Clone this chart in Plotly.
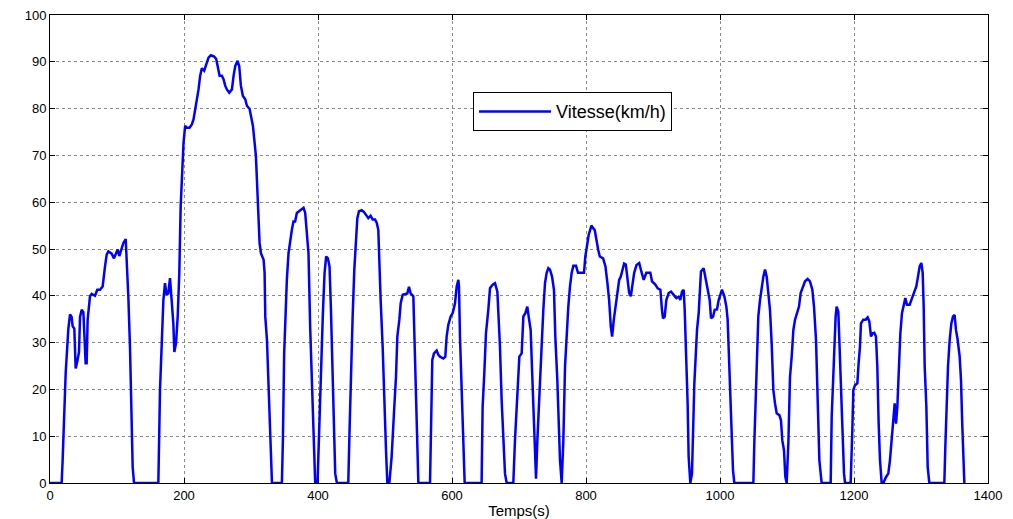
import plotly.graph_objects as go

# Temps (s) et vitesse (km/h)
temps_s = [
    0, 17.4, 18.9, 20.9, 23.4, 27.4, 29.9, 32.3, 33.8, 36.3, 38.3, 40.8, 43.3, 44.8, 47.3, 49.8,
    51.2, 53.2, 54.7, 56.2, 59.7, 62.2, 67.2, 70.6, 74.6, 78.6, 82.1, 84.6, 87.1, 92, 95.5, 98.5,
    101, 103.5, 106, 109.5, 113, 115.4, 116.9, 119.4, 121.9, 123.4, 125.4, 161.7,
    164.2, 166.7, 169.2, 171.6, 174.1, 176.6, 179.1, 181.6, 184.1, 185.6, 188.1, 190.6, 193, 195,
    197, 199.3, 201.7, 204.2, 208.2, 211.7, 214.2, 216.7, 219.2, 221.7, 224.1, 226.6, 230.1, 233.1,
    236.6, 240.1, 245.1, 248.1, 250.6, 253.1, 256.5, 259, 261.5, 264, 267.5, 271.5, 274, 276.5,
    279.9, 282.4, 284.9, 287.9, 291.4, 293.9, 297.9, 300.4, 302.9, 305.4, 307.3, 308.8, 310.8,
    312.8, 314.8, 318.8, 320.3, 321.3, 323.8, 326.3, 328.8, 331.3, 346.1,
    347.6, 349.5, 351.5, 353.5, 356, 358.5, 361, 363.4, 365.9, 368.4, 372.4, 375.9, 378.4, 380.9,
    383.3, 385.8, 388.3, 390.8, 393.3, 395.8, 399.3, 401.8, 404.3, 407.3, 409.8, 412.2, 414.7,
    417.2, 419.2, 421.2, 423.2, 425.7, 428.2, 445.2,
    446.7, 448.7, 451.7, 454.2, 456.7, 458.7, 461.2, 465.2, 468.7, 471.6, 475.1, 478.6, 481.6,
    485.1, 487.6, 490, 491.5, 493.5, 496.5, 499, 501.5, 503.5, 506.5, 509.9, 512.4, 513.9, 516.4,
    518.4, 521.4, 523.4, 526.4, 529.9, 533.3, 535.8, 538.3, 542.3, 543.8, 545.3, 547.3, 549.8, 567.2,
    568.7, 570.6, 573.1, 577.1, 579.6, 582.1, 587.1, 590, 592, 594.5, 598, 601, 604.5, 607, 609.5,
    610.4, 611.9, 614.4, 616.9, 618.9, 644.2,
    645.7, 648.2, 650.7, 654.2, 656.7, 660.7, 664.2, 667.7, 669.7, 671.6, 674.1, 676.6, 679.1,
    681.6, 691.5, 694, 697.5, 700.5, 704, 706.5, 709.5, 712.4, 714.4, 717.4, 720.4, 722.9, 725.4,
    727.4, 730.3, 733.3, 736.3, 738.8, 741.3, 743.8, 746.3, 749.3, 752.2, 754.2, 757.2, 759.2,
    761.2, 763.7, 766.2, 768.7, 771.1, 773.6, 776.1, 778.6, 781.1, 785.1, 788.1, 793.5, 797, 799,
    801, 804, 808, 813.1, 818.1, 820.6, 825.5, 829, 832, 834.5, 837, 839, 841.5, 844.5, 847, 849.5,
    851.9, 854.4, 856.9, 859.4, 861.9, 864.4, 866.9, 869.4, 871.9, 875.4, 879.4, 882.6, 886.1, 890,
    896, 898.5, 903.5, 907, 911, 913.4, 914.9, 917.4, 919.9, 923.4, 926.9, 930.8, 934.8, 938.3,
    940.8, 943.3, 945.8, 947.3, 949.8, 951.7, 953.2, 955.7, 958.2, 959.7, 961.7, 963.7, 965.7,
    968.2, 969.7, 971.6, 975.6, 978.1, 981.6, 984.6, 986.6, 989.6, 992.1, 995.5, 998, 1003, 1006.5,
    1009.5, 1011.4, 1014.4, 1016.9, 1019.4, 1021.4, 1049.8,
    1051.2, 1053.7, 1055.7, 1057.2, 1059.7, 1062.2, 1064.7, 1067.2, 1069.7, 1072.1, 1074.6, 1077.1,
    1079.6, 1082.1, 1084.6, 1088.6, 1091, 1093, 1095.5, 1097.5, 1099.5, 1102, 1104.5, 1107, 1109.5,
    1112, 1114.4, 1117.9, 1120.4, 1123.4, 1126.9, 1130.8, 1134.3, 1137.8, 1140.3, 1143.3, 1145.8,
    1148.3, 1151.7, 1165.2,
    1166.7, 1169.2, 1170.6, 1172.6, 1174.1, 1176.6, 1178.1, 1180.1, 1182.6, 1185.1, 1186.6, 1195,
    1197.5, 1199, 1201.5, 1205, 1206.9, 1208.9, 1210.4, 1213.9, 1217.4, 1220.4, 1222.9, 1225.4,
    1227.9, 1230.3, 1232.8, 1234.8, 1236.8, 1238.8, 1241.3, 1243.8, 1247.8, 1251.2, 1253.7, 1256.2,
    1258.7, 1260.7, 1262.7, 1264.7, 1266.7, 1269.2, 1271.6, 1274.1, 1276.6, 1279.1, 1283.1, 1286.6,
    1290, 1293, 1295.5, 1298, 1300.5, 1302.5, 1304, 1305.5, 1308, 1310, 1312.4, 1334.8,
    1336.3, 1338.8, 1340.3, 1342.8, 1345.3, 1347.8, 1350.2, 1352.2, 1354.7, 1357.7, 1359.7, 1361.7,
    1363.7, 1364.7,
]

vitesse_kmh = [
    0, 0, 5, 15, 23.5, 33, 36, 35.5, 33.5, 33, 24.5, 26, 28, 35.5, 37, 36.5,
    31.5, 25.6, 25.6, 34.9, 39.9, 40.4, 40, 41.3, 41.3, 42, 46.3, 48.8, 49.5, 49, 48, 49,
    49.9, 48.5, 49.5, 51.3, 52.1, 45.6, 39.9, 29, 13.4, 3.4, 0, 0,
    19.9, 32, 39, 42.7, 40.2, 40.5, 43.8, 39, 34, 28, 29.9, 35.6, 44.9, 59,
    65.6, 72.7, 76.3, 75.9, 75.9, 76.6, 77.7, 79.9, 81.6, 84.1, 87, 88.6, 88.1, 89.5,
    90.9, 91.4, 91.1, 90.6, 88.8, 87, 87, 86.3, 84.9, 84.1, 83.4, 84.1, 87, 89.1,
    90.2, 89.1, 84.9, 82.7, 82, 80.6, 79.9, 77.7, 76.3, 72.7, 69.9, 64.9, 57.7,
    51.3, 49.1, 47.7, 44.9, 35.6, 30.6, 19.1, 9.1, 0, 0,
    9.1, 27.7, 37.7, 43.4, 49.1, 52, 54.1, 55.9, 55.9, 57.7, 58.1, 58.4, 58.8, 57.7,
    53.4, 49.1, 33.4, 23.4, 9.1, 0, 0, 12.7, 24.9, 36.3, 44.9, 48.4, 48,
    46.3, 37.7, 27, 16.3, 2, 0, 0,
    9.1, 21.3, 35.6, 45.6, 53.4, 56.6, 58.1, 58.3, 57.9, 57.4, 56.6, 57.1, 56.3,
    56.3, 55.6, 54.1, 46.3, 39.1, 29.1, 16.3, 7, 0, 0, 5.6, 14.1, 16.3, 22.7,
    31.3, 34.9, 38.4, 40.2, 40.4, 40.5, 41.9, 40.5, 39.9, 32.7, 24.1, 12.7, 0, 0,
    12.7, 26.3, 27.7, 28.3, 27.4, 27, 26.6, 27, 31.3, 33.8, 35.6, 36.3, 38.4, 42, 43.4,
    42, 31.3, 19.9, 9.1, 0, 0,
    16.3, 23.4, 32, 37, 41.6, 42.4, 42.7, 40.9, 34.9, 29.1, 17.7, 9.1, 2,
    0, 0, 9.1, 19.9, 27, 27.7, 35.6, 36.3, 37.7, 35.6, 32.7, 20.6, 9.1, 0.9,
    9.1, 19.9, 27.7, 37, 42.7, 44.9, 45.9, 45.6, 44.1, 41.3, 31.3, 22, 12.7,
    4.9, 0, 9.1, 24.9, 32, 37.7, 42, 44.9, 46.4, 46.4, 44.9, 44.9, 44.9, 48.4,
    50.6, 53, 55, 54, 49.9, 48.4, 48, 46.3, 42.7, 39.1, 33.4, 31.3, 34.9, 38.4, 41.3, 43.4,
    44.1, 45.6, 46.9, 46.7, 44.1, 40.6, 39.9, 42, 44.9, 46.6, 47, 45.2, 43.4, 44.9,
    44.9, 43.1, 42.4, 41.6, 41.3, 37, 35.2, 35.5, 39.1, 40.6, 40.9, 40.2, 39.5, 39.8,
    39.1, 40.9, 41.3, 37, 27.7, 17, 5.6, 0, 2, 14.1, 21.3, 27, 32.7,
    36.3, 41.3, 45.2, 45.9, 44.1, 42, 39.1, 35.2, 35.5, 37, 37.1, 39.1, 41.3, 39.9,
    37.7, 34.9, 23.4, 11.3, 2.7, 0, 0,
    8.4, 19.9, 27.7, 35.6, 39.1, 42, 44.1, 45.6, 44.1, 40.6, 37, 29.9,
    19.9, 17, 14.9, 14.5, 13.4, 9.1, 7, 1.3, 0, 8.4, 22.7, 27, 32.7,
    34.9, 36.3, 37.7, 40.6, 42, 43.1, 43.6, 43.1, 41.3, 37.7, 30.6, 17,
    4.9, 0, 0,
    14.1, 23.4, 30.6, 35.6, 37.7, 36.6, 30.6, 22, 12.7, 2, 0, 0,
    11.3, 19.9, 20.9, 21.3, 25.6, 29.1, 34.1, 34.9, 34.9, 35.4, 34.5, 31.3,
    32, 32.1, 31.3, 24.9, 12.7, 4.9, 0, 0, 1.3, 2, 4.9, 9.9,
    13.4, 17, 12.7, 16.3, 23.4, 32, 36.3, 38.1, 39.5, 38.1, 38.1, 39.5,
    40.9, 42, 44.1, 46.3, 47, 44.9, 37.7, 24.9, 16.3, 3.4, 0, 0,
    7.7, 19.9, 24.9, 30.6, 34.1, 35.6, 35.9, 32.7, 30.6, 27, 22, 12,
    4.9, 0,
]

x_ticks = [0, 200, 400, 600, 800, 1000, 1200, 1400]
y_ticks = [0, 10, 20, 30, 40, 50, 60, 70, 80, 90, 100]

fig = go.Figure()
fig.add_trace(go.Scatter(
    x=temps_s, y=vitesse_kmh, mode="lines", name="Vitesse(km/h)",
    line=dict(color="#0000ff", width=2.5), cliponaxis=False,
))

axis_style = dict(
    showline=True, linecolor="black", linewidth=1, mirror="ticks",
    ticks="inside", ticklen=5, tickcolor="black",
    showgrid=True, gridcolor="#8a8a8a", gridwidth=1, griddash="dot",
    zeroline=False, layer="below traces",
    tickfont=dict(family="Liberation Sans, Arial", size=13, color="black"),
)

fig.update_xaxes(range=[0, 1400], tickvals=x_ticks,
                 title=dict(text="Temps(s)", standoff=4,
                            font=dict(family="Liberation Sans, Arial", size=15, color="black")),
                 **axis_style)
fig.update_yaxes(range=[0, 100], tickvals=y_ticks, **axis_style)

fig.update_layout(
    width=1013, height=519,
    margin=dict(l=50, r=25, t=15, b=36, autoexpand=False),
    paper_bgcolor="white", plot_bgcolor="white",
    showlegend=True,
    legend=dict(x=0.451, y=0.835, xanchor="left", yanchor="top",
                bgcolor="white", bordercolor="black", borderwidth=1,
                itemwidth=72,
                font=dict(family="Liberation Sans, Arial", size=18, color="black")),
)

# supprime la marge par défaut de la page pour que la figure remplisse la fenêtre
fig.write_html("out.html", config={"displayModeBar": False},
               post_script="document.body.style.margin = '0';")
